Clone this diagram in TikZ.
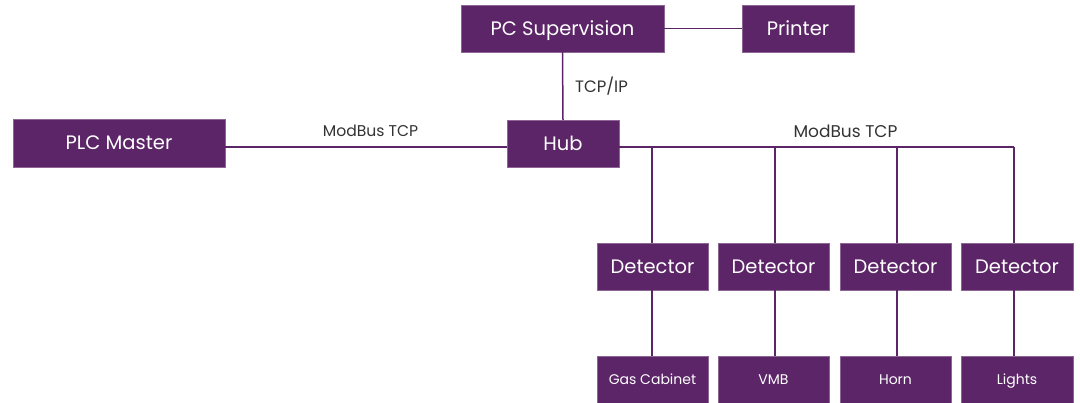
\documentclass[tikz,border=0pt]{standalone}
\usepackage{fontspec}
\setmainfont{Poppins}
\definecolor{plum}{HTML}{5C2568}
\definecolor{lbl}{HTML}{333333}
\begin{document}
\begin{tikzpicture}[x=1pt,y=-1pt,
  box/.style={fill=plum,draw=plum!70!white,line width=0.4pt,text=white,inner sep=0pt,text height=13.7pt,text depth=0pt,font=\fontsize{19.5}{22}\selectfont},
  small/.style={box,text height=9.8pt,font=\fontsize{14}{16}\selectfont},
  link/.style={draw=plum,line width=1.5pt},
  lab/.style={text=lbl,inner sep=0pt}]
\useasboundingbox (0,0) rectangle (1080,403);
\node[box,minimum width=203,minimum height=47] (pc) at (562.5,28.5) {PC Supervision};
\node[box,minimum width=112,minimum height=47] (pr) at (798,28.5) {Printer};
\node[box,minimum width=112,minimum height=47] (hub) at (563,143.5) {Hub};
\node[box,minimum width=212,minimum height=48] (plc) at (119,143) {PLC Master};
\node[box,minimum width=111,minimum height=47] (d1) at (652.5,266.5) {Detector};
\node[box,minimum width=111,minimum height=47] (d2) at (773.5,266.5) {Detector};
\node[box,minimum width=111,minimum height=47] (d3) at (895.5,266.5) {Detector};
\node[box,minimum width=112,minimum height=47] (d4) at (1017,266.5) {Detector};
\node[small,minimum width=111,minimum height=47] (b1) at (652.5,380) {Gas Cabinet};
\node[small,minimum width=111,minimum height=47] (b2) at (773.5,380) {VMB};
\node[small,minimum width=111,minimum height=47] (b3) at (895.5,380) {Horn};
\node[small,minimum width=112,minimum height=47] (b4) at (1017,380) {Lights};
\coordinate (t1) at (652,147);
\coordinate (t2) at (775,147);
\coordinate (t3) at (897,147);
\coordinate (t4) at (1014,147);
\draw[link] (pc.east) -- (pr.west);
\draw[link] (pc.south) -- (hub.north);
\draw[link] (plc.east |- 0,147) -- (hub.west |- 0,147);
\draw[link] (hub.east |- 0,147) -- (t4);
\draw[link] (t1) -- (t1 |- d1.north);
\draw[link] (t2) -- (t2 |- d2.north);
\draw[link] (t3) -- (t3 |- d3.north);
\draw[link] (t4) -- (t4 |- d4.north);
\draw[link] (t1 |- d1.south) -- (t1 |- b1.north);
\draw[link] (t2 |- d2.south) -- (t2 |- b2.north);
\draw[link] (t3 |- d3.south) -- (t3 |- b3.north);
\draw[link] (t4 |- d4.south) -- (t4 |- b4.north);
\node[lab,font=\fontsize{15.6}{18}\selectfont] (l1) at (370.5,131) {ModBus TCP};
\node[lab,font=\fontsize{17}{20}\selectfont] (l2) at (845.5,131) {ModBus TCP};
\node[lab,font=\fontsize{16.5}{19}\selectfont] (l3) at (601.5,86) {TCP/IP};
\end{tikzpicture}
\end{document}
